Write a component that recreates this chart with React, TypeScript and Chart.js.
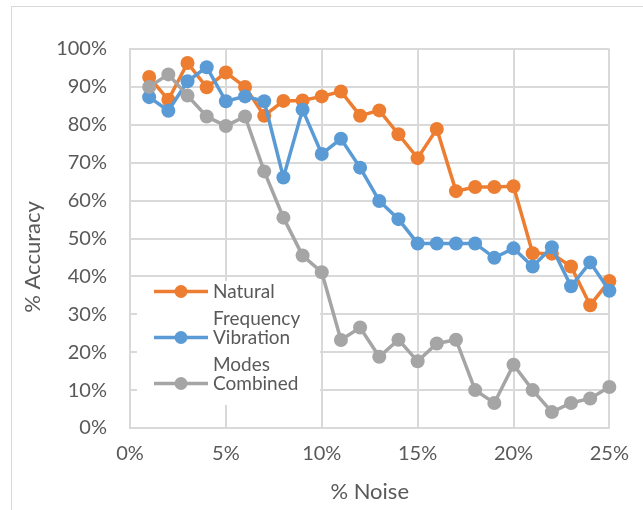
import React, { useEffect, useRef } from "react";
import { Chart, registerables } from "chart.js";

Chart.register(...registerables);

const noiseLevels = [1, 2, 3, 4, 5, 6, 7, 8, 9, 10, 11, 12, 13, 14, 15, 16, 17, 18, 19, 20, 21, 22, 23, 24, 25];
const naturalFrequency = [92.6, 86.6, 96.3, 89.9, 93.8, 90.0, 82.4, 86.3, 86.4, 87.5, 88.8, 82.4, 83.8, 77.5, 71.2, 78.9, 62.5, 63.6, 63.6, 63.8, 46.1, 46.0, 42.6, 32.4, 38.8];
const vibrationModes = [87.3, 83.7, 91.5, 95.2, 86.2, 87.5, 86.2, 66.1, 84.0, 72.3, 76.3, 68.7, 59.9, 55.1, 48.7, 48.7, 48.7, 48.7, 44.9, 47.4, 42.6, 47.7, 37.4, 43.7, 36.2];
const combined = [90.0, 93.3, 87.7, 82.2, 79.7, 82.2, 67.7, 55.5, 45.5, 41.1, 23.2, 26.5, 18.8, 23.3, 17.6, 22.3, 23.3, 10.0, 6.6, 16.7, 10.0, 4.2, 6.6, 7.8, 10.8];
const seriesLabels = ["Natural Frequency", "Vibration Modes", "Combined"];
const seriesColors = ["#ED7D31", "#5B9BD5", "#A5A5A5"];
const xTitle = "% Noise";
const yTitle = "% Accuracy";

const FONT = "Lato, 'Open Sans', sans-serif";
const TEXT = "#595959";
const GRID = "#d9d9d9";

const decorPlugin = {
  id: "decor",
  beforeDraw(chart: any) {
    const ctx = chart.ctx;
    ctx.save();
    ctx.fillStyle = "#ffffff";
    ctx.fillRect(0, 0, chart.width, chart.height);
    ctx.strokeStyle = GRID;
    ctx.lineWidth = 1;
    ctx.strokeRect(11.5, 6.5, chart.width + 20, chart.height + 20);
    ctx.restore();
  },
  afterDraw(chart: any) {
    const ctx = chart.ctx;
    const area = chart.chartArea;
    ctx.save();
    ctx.fillStyle = TEXT;
    ctx.textBaseline = "middle";
    ctx.textAlign = "center";
    ctx.font = `22px ${FONT}`;
    ctx.fillText(xTitle, (area.left + area.right) / 2, 492);
    ctx.save();
    ctx.translate(33, 257);
    ctx.rotate(-Math.PI / 2);
    ctx.fillText(yTitle, 0, 0);
    ctx.restore();

    // legend
    ctx.fillStyle = "#ffffff";
    ctx.fillRect(137, 281, 183, 124);
    ctx.font = `19px ${FONT}`;
    ctx.textAlign = "left";
    chart.data.datasets.forEach((ds: any, i: number) => {
      const y = 291.5 + 46 * i;
      ctx.strokeStyle = ds.borderColor;
      ctx.lineWidth = 3.5;
      ctx.beginPath();
      ctx.moveTo(154, y);
      ctx.lineTo(208, y);
      ctx.stroke();
      ctx.fillStyle = ds.backgroundColor;
      ctx.beginPath();
      ctx.arc(181, y, 6.5, 0, Math.PI * 2);
      ctx.fill();
      ctx.fillStyle = TEXT;
      const words = String(ds.label).split(" ");
      words.forEach((w: string, j: number) => {
        ctx.fillText(w, 213, y + 27.5 * j);
      });
    });
    ctx.restore();
  },
};

export default function App() {
  const ref = useRef<HTMLCanvasElement | null>(null);
  useEffect(() => {
    if (!ref.current) return;
    const series = [naturalFrequency, vibrationModes, combined];
    const chart = new Chart(ref.current, {
      type: "line",
      data: {
        datasets: series.map((vals, i) => ({
          label: seriesLabels[i],
          data: noiseLevels.map((x, k) => ({ x, y: vals[k] })),
          borderColor: seriesColors[i],
          backgroundColor: seriesColors[i],
          pointBackgroundColor: seriesColors[i],
          pointBorderColor: seriesColors[i],
          borderWidth: 3.5,
          pointRadius: 7,
          pointBorderWidth: 0,
          tension: 0,
          clip: false,
          order: 3 - i,
        })),
      },
      options: {
        animation: false,
        responsive: false,
        devicePixelRatio: 1,
        layout: { padding: { left: 0, top: 49, right: 29, bottom: 0 } },
        plugins: { legend: { display: false }, tooltip: { enabled: false } },
        scales: {
          x: {
            type: "linear",
            min: 0,
            max: 25,
            afterFit: (s: any) => { s.height = 82; },
            ticks: {
              stepSize: 5,
              callback: (v: any) => `${v}%`,
              color: TEXT,
              font: { family: FONT, size: 20 },
              padding: 14,
              maxRotation: 0,
            },
            grid: { color: GRID, lineWidth: 2, drawTicks: false },
            border: { color: GRID, width: 2 },
          },
          y: {
            min: 0,
            max: 100,
            afterFit: (s: any) => { s.width = 130; },
            ticks: {
              stepSize: 10,
              callback: (v: any) => `${v}%`,
              color: TEXT,
              font: { family: FONT, size: 20 },
              padding: 23,
            },
            grid: { color: GRID, lineWidth: 2, drawTicks: false },
            border: { color: GRID, width: 2 },
          },
        },
      },
      plugins: [decorPlugin],
    });
    return () => chart.destroy();
  }, []);
  return (
    <div style={{ position: "fixed", left: 0, top: 0, width: 643, height: 510 }}>
      <canvas ref={ref} width={643} height={510} style={{ width: 643, height: 510, display: "block" }} />
    </div>
  );
}
